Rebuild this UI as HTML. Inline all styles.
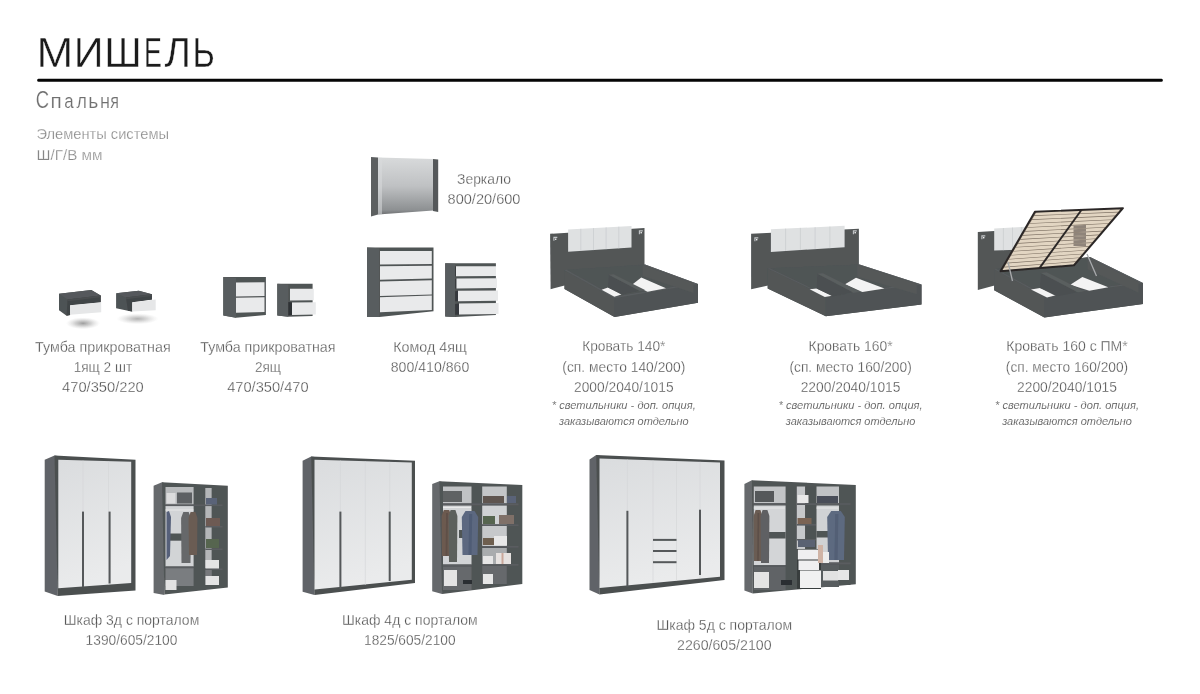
<!DOCTYPE html>
<html><head><meta charset="utf-8"><style>
html,body{margin:0;padding:0;background:#fff;}
body{width:1200px;height:694px;overflow:hidden;position:relative;}
svg{position:absolute;left:0;top:0;display:block;}
text{font-family:"Liberation Sans", sans-serif;}
</style></head><body>
<svg width="1200" height="694" viewBox="0 0 1200 694">
<defs>
<linearGradient id="mirror" x1="0" y1="0" x2="0" y2="1"><stop offset="0" stop-color="#d8dadb"/><stop offset="0.5" stop-color="#bfc1c3"/><stop offset="0.92" stop-color="#8d9092"/><stop offset="1" stop-color="#6c6f71"/></linearGradient>
<linearGradient id="door" x1="0" y1="0" x2="0.25" y2="1"><stop offset="0" stop-color="#dadcde"/><stop offset="1" stop-color="#eaebec"/></linearGradient>
<radialGradient id="shd"><stop offset="0" stop-color="#8c8c8c" stop-opacity="0.85"/><stop offset="0.45" stop-color="#a0a0a0" stop-opacity="0.5"/><stop offset="1" stop-color="#c8c8c8" stop-opacity="0"/></radialGradient>
<filter id="blur1" x="-150%" y="-300%" width="400%" height="700%"><feGaussianBlur stdDeviation="2.6"/></filter>
<filter id="gs" x="0" y="0" width="100%" height="100%"><feOffset dx="0" dy="0"/></filter>
<filter id="soft" x="-5%" y="-5%" width="110%" height="110%"><feGaussianBlur stdDeviation="0.35"/></filter>
</defs>
<g filter="url(#soft)">
<ellipse cx="83" cy="323.3" rx="17" ry="6" fill="url(#shd)" /><ellipse cx="137.5" cy="318.8" rx="21" ry="5.5" fill="url(#shd)" opacity="0.8"/><polygon points="59.0,293.8 91.3,290.0 100.7,295.6 100.7,302.2 70.1,305.2 70.1,315.0 66.6,315.8 59.0,310.2" fill="#4e5254" /><polygon points="59.0,293.8 91.3,290.0 100.7,295.6 67.6,299.5" fill="#55595b" /><polygon points="67.6,299.5 100.7,295.6 100.7,302.2 70.1,305.2 70.1,315.0 66.6,315.8" fill="#404446" /><polygon points="67.6,299.5 100.7,295.6 100.7,297.2 67.6,301.2" fill="#4a4e50" /><polygon points="70.1,305.2 101.2,302.2 101.2,312.2 70.1,314.8" fill="#e6e7e8" /><polygon points="116.1,293.3 138.8,290.8 151.9,294.3 151.9,299.6 132.2,302.2 132.2,311.5 127.9,310.7 116.1,308.2" fill="#4e5254" /><polygon points="116.1,293.3 138.8,290.8 151.9,294.3 126.0,297.5" fill="#55595b" /><polygon points="126.0,297.5 151.9,294.3 151.9,299.6 132.2,302.2 132.2,311.5 127.9,310.7" fill="#404446" /><polygon points="126.0,297.5 151.9,294.3 151.9,296.0 126.0,299.2" fill="#4a4e50" /><polygon points="132.2,302.2 155.7,299.6 155.7,310.2 132.2,311.5" fill="#e6e7e8" /><polygon points="223.3,277.0 265.9,277.0 265.9,315.0 236.0,317.8 223.3,315.5" fill="#505455" /><polygon points="223.3,277.0 236.0,278.0 236.0,317.8 223.3,315.5" fill="#595d5e" /><polygon points="236.0,282.4 264.5,282.3 264.5,296.1 236.0,296.6" fill="#e9eaeb" /><polygon points="236.0,297.8 264.5,297.3 264.5,311.9 236.0,312.8" fill="#e9eaeb" /><polygon points="277.3,283.8 312.6,283.8 312.6,316.0 288.3,316.8 277.3,315.5" fill="#505455" /><polygon points="277.3,283.8 288.3,284.5 288.3,316.8 277.3,315.5" fill="#595d5e" /><polygon points="290.0,288.8 313.8,288.8 313.8,300.2 290.0,300.4" fill="#e9eaeb" /><polygon points="292.0,302.5 315.8,302.3 315.8,314.6 292.0,315.0" fill="#e9eaeb" /><polygon points="288.3,302.0 292.0,302.5 292.0,315.0 288.3,315.5" fill="#2f3134" /><polygon points="371.0,157.0 378.0,157.5 378.0,214.6 371.0,216.6" fill="#5b5f61" /><polygon points="378.0,157.5 433.2,159.0 433.2,210.5 378.0,214.6" fill="url(#mirror)" /><polygon points="433.0,159.0 438.2,159.5 438.2,212.0 433.0,211.0" fill="#55595a" /><polygon points="378.0,157.6 382.0,157.7 382.0,214.3 378.0,214.6" fill="#d9dbdc" opacity="0.55"/><polygon points="367.0,247.6 433.5,247.6 433.5,311.2 379.3,317.0 367.0,317.0" fill="#505455" /><polygon points="367.0,247.6 379.3,248.2 379.3,317.0 367.0,317.0" fill="#595d5e" /><polygon points="380.0,251.0 431.8,250.9 431.8,263.9 380.0,264.5" fill="#e9eaeb" /><polygon points="380.0,266.3 431.8,265.7 431.8,278.6 380.0,279.7" fill="#e9eaeb" /><polygon points="380.0,281.4 431.8,280.3 431.8,294.4 380.0,296.0" fill="#e9eaeb" /><polygon points="380.0,297.2 431.8,295.5 431.8,310.1 380.0,312.3" fill="#e9eaeb" /><polygon points="445.2,263.3 495.9,263.3 495.9,315.0 455.1,317.0 445.2,316.5" fill="#505455" /><polygon points="445.2,263.3 455.1,263.8 455.1,317.0 445.2,316.5" fill="#595d5e" /><polygon points="455.1,266.8 456.0,266.3 456.0,276.2 455.1,276.2" fill="#36393c" /><polygon points="456.0,266.3 496.0,266.3 496.0,276.0 456.0,276.2" fill="#e9eaeb" /><polygon points="455.1,279.0 456.5,278.5 456.5,288.4 455.1,288.4" fill="#36393c" /><polygon points="456.5,278.5 497.0,278.3 497.0,288.0 456.5,288.4" fill="#e9eaeb" /><polygon points="455.1,291.3 458.0,290.8 458.0,301.3 455.1,301.3" fill="#36393c" /><polygon points="458.0,290.8 498.0,290.4 498.0,300.7 458.0,301.3" fill="#e9eaeb" /><polygon points="455.1,304.1 459.0,303.6 459.0,314.7 455.1,314.7" fill="#36393c" /><polygon points="459.0,303.5 498.5,303.0 498.5,313.9 459.0,314.6" fill="#e9eaeb" /><polygon points="550.1,233.8 644.5,228.0 644.5,265.0 550.6,289.2" fill="#525657" /><polygon points="568.1,229.5 631.5,225.9 631.5,247.5 568.1,251.8" fill="#dfe1e2" /><line x1="580.8" y1="228.8" x2="580.8" y2="250.9" stroke="#c9cccf" stroke-width="0.7" /><line x1="593.5" y1="228.1" x2="593.5" y2="250.1" stroke="#c9cccf" stroke-width="0.7" /><line x1="606.1" y1="227.3" x2="606.1" y2="249.2" stroke="#c9cccf" stroke-width="0.7" /><line x1="618.8" y1="226.6" x2="618.8" y2="248.4" stroke="#c9cccf" stroke-width="0.7" /><path d="M553.9,240.8 V237.4 H557.3" fill="none" stroke="#c4c6c8" stroke-width="1.1"/><rect x="555.0" y="238.5" width="1.4" height="1.4" fill="#f2f2f2" /><path d="M639.4,234.3 V230.9 H642.8" fill="none" stroke="#c4c6c8" stroke-width="1.1"/><rect x="640.5" y="232.0" width="1.4" height="1.4" fill="#f2f2f2" /><polygon points="564.5,270.2 645.0,264.5 698.0,284.0 698.0,302.8 614.5,317.0 564.5,289.0" fill="#505455" /><polygon points="564.5,270.2 614.5,298.2 614.5,317.0 564.5,289.0" fill="#525657" /><polygon points="614.5,298.2 698.0,284.0 698.0,302.8 614.5,317.0" fill="#4f5354" /><polygon points="564.5,270.2 614.5,298.2 698.0,284.0 645.0,264.5 642.6,264.9 693.5,283.2 614.8,296.6 566.9,269.8" fill="#585c5e" /><polygon points="566.9,269.8 614.8,296.6 693.5,283.2 642.6,264.9" fill="#505455" /><polygon points="601.6,289.7 608.0,287.5 621.4,294.6 614.4,296.7" fill="#f3f3f3" /><polygon points="632.0,284.7 641.3,277.6 666.0,288.2 647.6,291.8" fill="#f3f3f3" /><polygon points="642.6,264.9 693.5,283.2 693.5,293.0 642.6,276.0" fill="#545859" /><polygon points="608.8,274.7 639.8,291.1 622.3,294.6 608.0,287.5" fill="#4c5051" /><polygon points="608.8,274.7 613.6,274.3 645.5,290.3 639.8,291.1" fill="#5a5e5f" /><polygon points="751.1,233.8 858.9,228.7 858.9,265.5 751.1,289.2" fill="#525657" /><polygon points="770.9,229.3 844.6,225.8 844.6,247.2 770.9,252.0" fill="#dfe1e2" /><line x1="785.6" y1="228.6" x2="785.6" y2="251.0" stroke="#c9cccf" stroke-width="0.7" /><line x1="800.4" y1="227.9" x2="800.4" y2="250.1" stroke="#c9cccf" stroke-width="0.7" /><line x1="815.1" y1="227.2" x2="815.1" y2="249.1" stroke="#c9cccf" stroke-width="0.7" /><line x1="829.9" y1="226.5" x2="829.9" y2="248.2" stroke="#c9cccf" stroke-width="0.7" /><path d="M754.9,241.3 V237.9 H758.3" fill="none" stroke="#c4c6c8" stroke-width="1.1"/><rect x="756.0" y="239.0" width="1.4" height="1.4" fill="#f2f2f2" /><path d="M853.4,234.3 V230.9 H856.8" fill="none" stroke="#c4c6c8" stroke-width="1.1"/><rect x="854.5" y="232.0" width="1.4" height="1.4" fill="#f2f2f2" /><polygon points="767.7,268.6 859.5,264.5 921.5,284.5 921.5,304.5 825.8,316.2 767.7,288.6" fill="#505455" /><polygon points="767.7,268.6 825.8,296.2 825.8,316.2 767.7,288.6" fill="#525657" /><polygon points="825.8,296.2 921.5,284.5 921.5,304.5 825.8,316.2" fill="#4f5354" /><polygon points="767.7,268.6 825.8,296.2 921.5,284.5 859.5,264.5 857.1,264.8 916.9,283.8 826.0,294.9 770.1,268.3" fill="#585c5e" /><polygon points="770.1,268.3 826.0,294.9 916.9,283.8 857.1,264.8" fill="#505455" /><polygon points="809.7,289.3 816.6,288.4 832.2,295.7 824.8,297.1" fill="#f3f3f3" /><polygon points="845.0,284.2 856.0,277.8 884.4,288.4 862.4,292.0" fill="#f3f3f3" /><polygon points="857.1,264.8 916.9,283.8 916.9,294.3 857.1,276.7" fill="#545859" /><polygon points="817.5,273.7 853.2,292.5 833.0,296.6 816.6,288.4" fill="#4c5051" /><polygon points="817.5,273.7 823.0,273.2 859.7,291.6 853.2,292.5" fill="#5a5e5f" /><polygon points="977.8,232.0 1060.0,227.0 1060.0,268.0 977.8,290.0" fill="#525657" /><polygon points="994.2,228.5 1040.0,226.0 1040.0,249.0 994.2,250.5" fill="#dfe1e2" /><line x1="1003.4" y1="228.0" x2="1003.4" y2="250.2" stroke="#c9cccf" stroke-width="0.7" /><line x1="1012.5" y1="227.5" x2="1012.5" y2="249.9" stroke="#c9cccf" stroke-width="0.7" /><line x1="1021.7" y1="227.0" x2="1021.7" y2="249.6" stroke="#c9cccf" stroke-width="0.7" /><line x1="1030.8" y1="226.5" x2="1030.8" y2="249.3" stroke="#c9cccf" stroke-width="0.7" /><path d="M981.9,239.3 V235.9 H985.3" fill="none" stroke="#c4c6c8" stroke-width="1.1"/><rect x="983.0" y="237.0" width="1.4" height="1.4" fill="#f2f2f2" /><polygon points="994.2,269.2 1090.0,257.0 1143.0,283.0 1143.0,304.0 1044.4,317.5 994.2,290.2" fill="#505455" /><polygon points="994.2,269.2 1044.4,296.5 1044.4,317.5 994.2,290.2" fill="#525657" /><polygon points="1044.4,296.5 1143.0,283.0 1143.0,304.0 1044.4,317.5" fill="#4f5354" /><polygon points="994.2,269.2 1044.4,296.5 1143.0,283.0 1090.0,257.0 1087.6,257.3 1138.5,282.2 1044.7,295.0 996.6,268.9" fill="#585c5e" /><polygon points="996.6,268.9 1044.7,295.0 1138.5,282.2 1087.6,257.3" fill="#505455" /><polygon points="1031.0,289.5 1040.0,288.0 1057.0,295.0 1047.0,297.5" fill="#f3f3f3" /><polygon points="1070.3,284.7 1082.4,277.0 1108.3,287.3 1089.3,290.8" fill="#f3f3f3" /><polygon points="1087.6,257.3 1138.5,282.2 1138.5,292.7 1087.6,269.2" fill="#545859" /><polygon points="1040.9,272.9 1077.7,292.2 1056.9,296.4 1040.0,288.0" fill="#4c5051" /><polygon points="1040.9,272.9 1046.6,272.3 1084.4,291.3 1077.7,292.2" fill="#5a5e5f" /><polygon points="1034.9,211.7 1123.0,208.2 1074.0,265.3 1000.5,271.2" fill="#7a6d60" /><polygon points="1036.5,211.9 1121.0,208.6 1118.3,211.8 1034.5,215.3" fill="#e2d5c2" /><polygon points="1034.2,215.9 1117.7,212.4 1115.0,215.6 1032.2,219.2" fill="#e2d5c2" /><polygon points="1031.9,219.9 1114.5,216.2 1111.8,219.4 1029.9,223.2" fill="#e2d5c2" /><polygon points="1029.5,223.8 1111.2,220.0 1108.5,223.2 1027.6,227.2" fill="#e2d5c2" /><polygon points="1027.2,227.8 1108.0,223.8 1105.3,227.0 1025.3,231.1" fill="#e2d5c2" /><polygon points="1024.9,231.8 1104.7,227.6 1102.0,230.8 1023.0,235.1" fill="#e2d5c2" /><polygon points="1022.6,235.7 1101.5,231.4 1098.8,234.6 1020.7,239.1" fill="#e2d5c2" /><polygon points="1020.3,239.7 1098.2,235.2 1095.5,238.4 1018.3,243.0" fill="#e2d5c2" /><polygon points="1018.0,243.7 1095.0,239.1 1092.3,242.3 1016.0,247.0" fill="#e2d5c2" /><polygon points="1015.7,247.6 1091.8,242.9 1089.0,246.1 1013.7,250.9" fill="#e2d5c2" /><polygon points="1013.3,251.6 1088.5,246.7 1085.8,249.9 1011.4,254.9" fill="#e2d5c2" /><polygon points="1011.0,255.5 1085.3,250.5 1082.5,253.7 1009.1,258.9" fill="#e2d5c2" /><polygon points="1008.7,259.5 1082.0,254.3 1079.3,257.5 1006.8,262.8" fill="#e2d5c2" /><polygon points="1006.4,263.5 1078.8,258.1 1076.0,261.3 1004.5,266.8" fill="#e2d5c2" /><polygon points="1004.1,267.4 1075.5,261.9 1072.8,265.1 1002.2,270.8" fill="#e2d5c2" /><clipPath id="slatclip"><polygon points="1034.7,212.0 1122.7,208.5 1120.0,211.7 1032.8,215.3" fill="#000" /><polygon points="1032.4,216.0 1119.5,212.3 1116.7,215.5 1030.5,219.3" fill="#000" /><polygon points="1030.1,220.0 1116.2,216.1 1113.5,219.3 1028.2,223.3" fill="#000" /><polygon points="1027.8,223.9 1112.9,219.9 1110.2,223.1 1025.9,227.2" fill="#000" /><polygon points="1025.5,227.9 1109.7,223.7 1106.9,226.9 1023.6,231.2" fill="#000" /><polygon points="1023.2,231.9 1106.4,227.5 1103.7,230.7 1021.3,235.2" fill="#000" /><polygon points="1021.0,235.8 1103.1,231.3 1100.4,234.5 1019.0,239.1" fill="#000" /><polygon points="1018.7,239.8 1099.9,235.2 1097.1,238.3 1016.7,243.1" fill="#000" /><polygon points="1016.4,243.8 1096.6,239.0 1093.9,242.2 1014.4,247.1" fill="#000" /><polygon points="1014.1,247.7 1093.3,242.8 1090.6,246.0 1012.2,251.0" fill="#000" /><polygon points="1011.8,251.7 1090.1,246.6 1087.3,249.8 1009.9,255.0" fill="#000" /><polygon points="1009.5,255.7 1086.8,250.4 1084.1,253.6 1007.6,259.0" fill="#000" /><polygon points="1007.2,259.6 1083.5,254.2 1080.8,257.4 1005.3,262.9" fill="#000" /><polygon points="1004.9,263.6 1080.3,258.0 1077.5,261.2 1003.0,266.9" fill="#000" /><polygon points="1002.6,267.6 1077.0,261.8 1074.3,265.0 1000.7,270.9" fill="#000" /></clipPath><rect x="1073.5" y="225" width="12.5" height="21" fill="#8f847a" clip-path="url(#slatclip)"/><polygon points="1034.9,211.7 1123.0,208.2 1074.0,265.3 1000.5,271.2" fill="none" stroke="#2b2726" stroke-width="1.9" stroke-linejoin="round"/><line x1="1081.6" y1="209.8" x2="1039.5" y2="268.1" stroke="#2b2726" stroke-width="1.9" /><line x1="1008" y1="262" x2="1012.5" y2="281" stroke="#a9abad" stroke-width="1.3" /><line x1="1087" y1="254" x2="1096.5" y2="276" stroke="#a9abad" stroke-width="1.3" /><polygon points="44.7,459.7 54.5,455.4 57.7,456.0 57.7,596.0 44.7,591.6" fill="#616467" /><polygon points="54.5,455.4 135.5,459.7 135.5,590.5 57.7,596.0" fill="#4b4f50" /><polygon points="57.7,456.0 57.8,456.0 57.8,596.0 57.7,596.0" fill="#4b4f50" /><polygon points="58.3,459.7 131.2,461.8 131.2,583.0 58.3,588.3" fill="url(#door)" /><line x1="83" y1="460.5" x2="83" y2="587" stroke="#d3d5d7" stroke-width="0.6" /><line x1="108.5" y1="461.2" x2="108.5" y2="584.5" stroke="#d3d5d7" stroke-width="0.6" /><rect x="82" y="511.6" width="2" height="75.39999999999998" fill="#55595a" /><rect x="108.6" y="511.6" width="2" height="71.89999999999998" fill="#55595a" /><polygon points="302.6,460.8 311.2,456.5 314.5,457.0 314.5,595.0 302.6,591.7" fill="#616467" /><polygon points="311.2,456.5 415.0,460.8 415.0,583.0 314.5,595.0" fill="#4b4f50" /><polygon points="314.5,457.0 314.6,457.0 314.6,595.0 314.5,595.0" fill="#4b4f50" /><polygon points="314.5,459.7 411.8,462.5 411.8,579.8 314.5,589.5" fill="url(#door)" /><line x1="340.4" y1="460.5" x2="340.4" y2="587" stroke="#d3d5d7" stroke-width="0.6" /><line x1="365.3" y1="461.2" x2="365.3" y2="585" stroke="#d3d5d7" stroke-width="0.6" /><line x1="389.7" y1="461.8" x2="389.7" y2="582" stroke="#d3d5d7" stroke-width="0.6" /><rect x="339.4" y="511.6" width="2" height="77.39999999999998" fill="#55595a" /><rect x="388.7" y="511.6" width="2" height="69.39999999999998" fill="#55595a" /><polygon points="589.5,459.5 596.2,455.0 599.5,455.5 599.5,594.6 589.5,590.0" fill="#616467" /><polygon points="596.2,455.0 724.5,460.6 724.5,580.0 599.5,594.6" fill="#4b4f50" /><polygon points="599.5,455.5 599.6,455.5 599.6,594.6 599.5,594.6" fill="#4b4f50" /><polygon points="599.5,458.4 720.0,462.5 720.0,576.7 599.5,587.9" fill="url(#door)" /><line x1="627.4" y1="459.5" x2="627.4" y2="585.5" stroke="#d3d5d7" stroke-width="0.6" /><line x1="653" y1="460.3" x2="653" y2="583" stroke="#d3d5d7" stroke-width="0.6" /><line x1="676.5" y1="461" x2="676.5" y2="581" stroke="#d3d5d7" stroke-width="0.6" /><line x1="700" y1="461.8" x2="700" y2="578.5" stroke="#d3d5d7" stroke-width="0.6" /><rect x="626.4" y="510.8" width="2" height="75.90000000000003" fill="#55595a" /><rect x="699" y="509.7" width="2" height="65.30000000000001" fill="#55595a" /><rect x="653" y="538.9" width="23.5" height="2" fill="#55595a" /><rect x="653" y="550" width="23.5" height="2" fill="#55595a" /><rect x="653" y="561.2" width="23.5" height="2" fill="#55595a" /><polygon points="153.6,485.8 162.0,482.2 164.4,483.0 164.4,595.0 153.6,592.9" fill="#66696c" /><polygon points="162.0,482.2 227.8,485.8 227.8,587.5 164.4,594.5" fill="#505455" /><rect x="165.5" y="487" width="28.099999999999994" height="17.5" fill="#b9bbbd" /><rect x="165.5" y="506" width="28.099999999999994" height="60.5" fill="#d2d4d6" /><rect x="170" y="533.5" width="23.599999999999994" height="7.2000000000000455" fill="#505455" /><rect x="165.5" y="568" width="28.099999999999994" height="18" fill="#7a7d80" /><rect x="205.3" y="488" width="6.5" height="80" fill="#b4b6b8" /><rect x="211.8" y="488" width="10.699999999999989" height="97" fill="#505455" /><rect x="205.3" y="570" width="6.5" height="15" fill="#77797c" /><rect x="165.5" y="504.5" width="57.0" height="1.6" fill="#5a5d60" /><rect x="165.5" y="566.5" width="28.099999999999994" height="1.8" fill="#5a5d60" /><rect x="205.3" y="526" width="17.19999999999999" height="1.5" fill="#5a5d60" /><rect x="205.3" y="548.5" width="17.19999999999999" height="1.5" fill="#5a5d60" /><rect x="205.3" y="568.4" width="17.19999999999999" height="1.6" fill="#5a5d60" /><rect x="166.5" y="493" width="9" height="10.5" fill="#dcdcdd" /><rect x="177" y="492.5" width="15" height="11" fill="#5d6063" /><rect x="165.5" y="509.5" width="28" height="1" fill="#e8e8e8" /><polygon points="166.5,512.0 169.0,511.0 171.0,517.0 170.0,556.0 166.5,560.0" fill="#56607a" /><polygon points="183.3,512.0 188.7,512.0 190.9,518.0 190.5,563.0 181.5,563.0 181.1,518.0" fill="#66686a" /><polygon points="190.6,512.0 195.4,512.0 197.4,518.0 197.0,555.0 189.0,555.0 188.6,518.0" fill="#6b5b52" /><rect x="206" y="498" width="11" height="6.5" fill="#5a6478" /><rect x="206" y="518" width="14" height="8" fill="#6d5a52" /><rect x="206" y="539" width="13" height="9" fill="#56654f" /><rect x="205.5" y="560" width="13.5" height="8.5" fill="#e4e4e4" /><rect x="205.5" y="576" width="13.5" height="9" fill="#e4e4e4" /><rect x="165.5" y="580" width="11" height="10" fill="#e2e2e2" /><polygon points="432.2,484.0 439.4,481.3 442.1,482.0 442.1,593.9 432.2,591.2" fill="#66696c" /><polygon points="439.4,481.3 522.3,484.9 522.3,584.0 442.1,593.9" fill="#505455" /><rect x="443" y="486.5" width="28.5" height="16.899999999999977" fill="#c0c2c4" /><rect x="443" y="505.5" width="28.5" height="59.0" fill="#d2d4d6" /><rect x="459" y="530" width="12.5" height="8" fill="#505455" /><rect x="443" y="566.5" width="28.5" height="23.5" fill="#66696c" /><rect x="482.2" y="486.5" width="24.600000000000023" height="16.899999999999977" fill="#c4c6c8" /><rect x="482.2" y="505.5" width="24.600000000000023" height="18.899999999999977" fill="#d0d2d4" /><rect x="482.2" y="526" width="24.600000000000023" height="20" fill="#c6c8ca" /><rect x="482.2" y="548" width="24.600000000000023" height="16" fill="#a9acae" /><rect x="482.2" y="566" width="24.600000000000023" height="18" fill="#66696c" /><rect x="507.3" y="486.5" width="11.199999999999989" height="96.5" fill="#505455" /><rect x="443" y="503.4" width="75.5" height="1.8" fill="#5a5d60" /><rect x="443" y="564.5" width="28.5" height="1.8" fill="#5a5d60" /><rect x="482.2" y="524.4" width="36.30000000000001" height="1.6" fill="#5a5d60" /><rect x="482.2" y="546" width="36.30000000000001" height="1.6" fill="#5a5d60" /><rect x="482.2" y="564" width="36.30000000000001" height="1.7" fill="#5a5d60" /><rect x="443" y="507" width="28" height="1" fill="#eaeaea" /><rect x="443" y="491" width="19" height="11" fill="#5f6264" /><polygon points="443.8,510.0 449.2,510.0 451.4,516.0 451.0,556.0 442.0,556.0 441.6,516.0" fill="#6c5a50" /><polygon points="446.1,513.0 447.9,513.0 447.4,556.0 445.6,556.0" fill="#5e4f47" /><polygon points="450.6,510.0 455.4,510.0 457.4,516.0 457.0,562.0 449.0,562.0 448.6,516.0" fill="#5c605c" /><polygon points="465.5,511.0 474.5,511.0 478.2,517.0 477.5,555.0 462.5,555.0 461.8,517.0" fill="#5b6880" /><polygon points="469.2,514.0 472.2,514.0 471.5,555.0 468.5,555.0" fill="#4f5c74" /><rect x="483" y="496" width="21" height="7" fill="#5e5450" /><rect x="507" y="496" width="9" height="7" fill="#5a6478" /><rect x="483" y="516" width="12" height="8" fill="#56654f" /><rect x="499" y="515" width="15" height="9" fill="#7f6f68" /><rect x="483" y="538" width="12" height="7" fill="#6e5e50" /><rect x="494" y="536" width="13" height="9.5" fill="#e8e8e8" /><rect x="483" y="556" width="10" height="8" fill="#e6e6e6" /><rect x="496" y="553" width="15" height="11" fill="#e6e2e0" /><rect x="501.5" y="553" width="2" height="11" fill="#c9a79a" /><rect x="483" y="574" width="10" height="10" fill="#e6e6e6" /><rect x="444" y="570" width="13" height="16" fill="#e4e4e4" /><rect x="463" y="580" width="9" height="4" fill="#2c2e30" /><polygon points="744.4,484.0 751.9,480.3 752.8,481.0 752.8,593.6 744.4,590.5" fill="#66696c" /><polygon points="751.9,480.3 855.8,485.0 855.8,584.3 752.8,593.6" fill="#505455" /><rect x="753.8" y="486.5" width="31.800000000000068" height="16.69999999999999" fill="#c2c4c6" /><rect x="753.8" y="505.5" width="31.800000000000068" height="59.5" fill="#d3d5d7" /><rect x="768" y="532" width="17.600000000000023" height="6.5" fill="#505455" /><rect x="753.8" y="567" width="31.800000000000068" height="23" fill="#606466" /><rect x="796.8" y="486.5" width="8.400000000000091" height="62.5" fill="#c6c8ca" /><rect x="805.2" y="486.5" width="11.299999999999955" height="62.5" fill="#4e5253" /><rect x="816.5" y="486.5" width="22.5" height="16.69999999999999" fill="#c0c2c4" /><rect x="816.5" y="505.5" width="22.5" height="57.0" fill="#d0d2d4" /><rect x="816.5" y="531" width="22.5" height="6.5" fill="#505455" /><rect x="816.5" y="564.5" width="22.5" height="22.5" fill="#595d5f" /><rect x="839.5" y="486.5" width="11.0" height="98.5" fill="#505455" /><rect x="753.8" y="503.2" width="31.800000000000068" height="1.8" fill="#5a5d60" /><rect x="753.8" y="565" width="31.800000000000068" height="1.8" fill="#5a5d60" /><rect x="796.8" y="503.2" width="42.200000000000045" height="1.8" fill="#5a5d60" /><rect x="796.8" y="524" width="19.200000000000045" height="1.6" fill="#5a5d60" /><rect x="796.8" y="539" width="19.200000000000045" height="1.5" fill="#5a5d60" /><rect x="816.5" y="562.5" width="34.0" height="1.8" fill="#5a5d60" /><rect x="839.5" y="503.2" width="11.0" height="1.6" fill="#5a5d60" /><rect x="753.8" y="507.5" width="31" height="1" fill="#e8e8e8" /><rect x="755" y="491" width="19" height="11" fill="#55585a" /><polygon points="755.6,510.0 760.4,510.0 762.4,516.0 762.0,561.0 754.0,561.0 753.6,516.0" fill="#6a5b52" /><polygon points="757.6,513.0 759.2,513.0 758.8,561.0 757.2,561.0" fill="#5c4f48" /><polygon points="762.6,510.0 767.4,510.0 769.4,516.0 769.0,563.0 761.0,563.0 760.6,516.0" fill="#5f6163" /><rect x="797.5" y="495" width="11" height="8" fill="#e8e8e8" /><rect x="797.5" y="518" width="14" height="6" fill="#7a6452" /><rect x="798" y="540" width="17" height="7" fill="#5a6272" /><rect x="817" y="496" width="21" height="7" fill="#4a4e58" /><rect x="816.5" y="507.5" width="22" height="1" fill="#e8e8e8" /><polygon points="831.2,511.0 840.8,511.0 844.8,517.0 844.0,560.0 828.0,560.0 827.2,517.0" fill="#5d6a80" /><polygon points="835.2,514.0 838.4,514.0 837.6,560.0 834.4,560.0" fill="#525f75" /><rect x="823" y="571" width="15" height="9.5" fill="#e2e2e2" /><rect x="838" y="570" width="11" height="10" fill="#e6e6e6" /><rect x="797" y="549" width="24" height="40" fill="#383c3d" /><polygon points="797.8,549.6 818.4,549.6 818.4,559.5 797.8,559.5" fill="#efeff0" /><polygon points="798.5,560.5 819.0,560.5 819.0,570.0 798.5,570.0" fill="#efeff0" /><polygon points="800.0,570.5 821.0,570.5 821.0,588.0 800.0,588.0" fill="#f1f1f1" /><rect x="818" y="545" width="5" height="18" fill="#cfb3a5" /><rect x="823" y="552" width="6" height="11" fill="#ececec" /><rect x="754" y="572" width="15" height="16" fill="#e4e4e4" /><rect x="781" y="580" width="11" height="5" fill="#2c2e30" />
</g>
<g filter="url(#gs)"><text transform="translate(36.41,66.8) scale(1.057,1)" x="0" y="0" font-size="41.8" fill="#1b1b1b" stroke="#fff" stroke-width="0.4">М</text><text transform="translate(73.63,66.8) scale(0.991,1)" x="0" y="0" font-size="41.8" fill="#1b1b1b" stroke="#fff" stroke-width="0.4">И</text><text transform="translate(104.18,66.8) scale(0.978,1)" x="0" y="0" font-size="41.8" fill="#1b1b1b" stroke="#fff" stroke-width="0.4">Ш</text><text transform="translate(144.07,66.8) scale(0.641,1)" x="0" y="0" font-size="41.8" fill="#1b1b1b" stroke="#fff" stroke-width="0.4">Е</text><text transform="translate(164.61,66.8) scale(0.97,1)" x="0" y="0" font-size="41.8" fill="#1b1b1b" stroke="#fff" stroke-width="0.4">Л</text><text transform="translate(192.62,66.8) scale(0.817,1)" x="0" y="0" font-size="41.8" fill="#1b1b1b" stroke="#fff" stroke-width="0.4">Ь</text><rect x="37.2" y="78.8" width="1125.6" height="3" rx="1.4" fill="#050505"/><text transform="translate(35.75,107.5) scale(0.86,1.08)" x="0" y="0" font-size="21.5" fill="#707070" stroke="#fff" stroke-width="0.2">С</text><text transform="translate(50.55,107.5) scale(0.966,0.92)" x="0" y="0" font-size="21.5" fill="#707070" stroke="#fff" stroke-width="0.2">п</text><text transform="translate(64.29,107.5) scale(0.788,0.92)" x="0" y="0" font-size="21.5" fill="#707070" stroke="#fff" stroke-width="0.2">а</text><text transform="translate(76.62,107.5) scale(0.827,0.92)" x="0" y="0" font-size="21.5" fill="#707070" stroke="#fff" stroke-width="0.2">л</text><text transform="translate(88.25,107.5) scale(0.898,0.92)" x="0" y="0" font-size="21.5" fill="#707070" stroke="#fff" stroke-width="0.2">ь</text><text transform="translate(99.99,107.5) scale(0.843,0.92)" x="0" y="0" font-size="21.5" fill="#707070" stroke="#fff" stroke-width="0.2">н</text><text transform="translate(110.25,107.5) scale(0.75,0.92)" x="0" y="0" font-size="21.5" fill="#707070" stroke="#fff" stroke-width="0.2">я</text><text x="36.5" y="138.6" font-size="14.8" fill="#878787" text-anchor="start" stroke="#fff" stroke-width="0.25" textLength="132.5" lengthAdjust="spacingAndGlyphs">Элементы системы</text><text x="36.5" y="159.8" font-size="14.8" fill="#878787" text-anchor="start" stroke="#fff" stroke-width="0.25" textLength="66" lengthAdjust="spacingAndGlyphs">Ш/Г/В мм</text><text x="102.9" y="351.75" font-size="15.2" fill="#4f4f4f" text-anchor="middle" stroke="#fff" stroke-width="0.3" textLength="135.7" lengthAdjust="spacingAndGlyphs">Тумба прикроватная</text><text x="102.9" y="371.85" font-size="15.2" fill="#4f4f4f" text-anchor="middle" stroke="#fff" stroke-width="0.3" textLength="58.5" lengthAdjust="spacingAndGlyphs">1ящ 2 шт</text><text x="102.9" y="391.95" font-size="15.2" fill="#4f4f4f" text-anchor="middle" stroke="#fff" stroke-width="0.3" textLength="81.7" lengthAdjust="spacingAndGlyphs">470/350/220</text><text x="267.9" y="351.75" font-size="15.2" fill="#4f4f4f" text-anchor="middle" stroke="#fff" stroke-width="0.3" textLength="135.3" lengthAdjust="spacingAndGlyphs">Тумба прикроватная</text><text x="267.9" y="371.85" font-size="15.2" fill="#4f4f4f" text-anchor="middle" stroke="#fff" stroke-width="0.3" textLength="26" lengthAdjust="spacingAndGlyphs">2ящ</text><text x="267.9" y="391.95" font-size="15.2" fill="#4f4f4f" text-anchor="middle" stroke="#fff" stroke-width="0.3" textLength="81.5" lengthAdjust="spacingAndGlyphs">470/350/470</text><text x="484" y="184.0" font-size="15.2" fill="#4f4f4f" text-anchor="middle" stroke="#fff" stroke-width="0.3" textLength="54" lengthAdjust="spacingAndGlyphs">Зеркало</text><text x="484" y="203.8" font-size="15.2" fill="#4f4f4f" text-anchor="middle" stroke="#fff" stroke-width="0.3" textLength="72.9" lengthAdjust="spacingAndGlyphs">800/20/600</text><text x="430" y="351.5" font-size="15.2" fill="#4f4f4f" text-anchor="middle" stroke="#fff" stroke-width="0.3" textLength="73.5" lengthAdjust="spacingAndGlyphs">Комод 4ящ</text><text x="430" y="371.5" font-size="15.2" fill="#4f4f4f" text-anchor="middle" stroke="#fff" stroke-width="0.3" textLength="78.5" lengthAdjust="spacingAndGlyphs">800/410/860</text><text x="623.8" y="351" font-size="15.2" fill="#4f4f4f" text-anchor="middle" stroke="#fff" stroke-width="0.3" textLength="83.2" lengthAdjust="spacingAndGlyphs">Кровать 140*</text><text x="623.8" y="372" font-size="15.2" fill="#4f4f4f" text-anchor="middle" stroke="#fff" stroke-width="0.3" textLength="123" lengthAdjust="spacingAndGlyphs">(сп. место 140/200)</text><text x="623.8" y="391.5" font-size="15.2" fill="#4f4f4f" text-anchor="middle" stroke="#fff" stroke-width="0.3" textLength="99.5" lengthAdjust="spacingAndGlyphs">2000/2040/1015</text><text x="623.8" y="408.75" font-size="11.5" fill="#555" text-anchor="middle" stroke="#fff" stroke-width="0.12" textLength="144" lengthAdjust="spacingAndGlyphs" font-style="italic">* светильники - доп. опция,</text><text x="623.8" y="424.5" font-size="11.5" fill="#555" text-anchor="middle" stroke="#fff" stroke-width="0.12" textLength="129.7" lengthAdjust="spacingAndGlyphs" font-style="italic">заказываются отдельно</text><text x="850.6" y="351" font-size="15.2" fill="#4f4f4f" text-anchor="middle" stroke="#fff" stroke-width="0.3" textLength="84" lengthAdjust="spacingAndGlyphs">Кровать 160*</text><text x="850.6" y="372" font-size="15.2" fill="#4f4f4f" text-anchor="middle" stroke="#fff" stroke-width="0.3" textLength="122.3" lengthAdjust="spacingAndGlyphs">(сп. место 160/200)</text><text x="850.6" y="391.5" font-size="15.2" fill="#4f4f4f" text-anchor="middle" stroke="#fff" stroke-width="0.3" textLength="99.8" lengthAdjust="spacingAndGlyphs">2200/2040/1015</text><text x="850.6" y="408.75" font-size="11.5" fill="#555" text-anchor="middle" stroke="#fff" stroke-width="0.12" textLength="144" lengthAdjust="spacingAndGlyphs" font-style="italic">* светильники - доп. опция,</text><text x="850.6" y="424.5" font-size="11.5" fill="#555" text-anchor="middle" stroke="#fff" stroke-width="0.12" textLength="129.7" lengthAdjust="spacingAndGlyphs" font-style="italic">заказываются отдельно</text><text x="1067" y="351" font-size="15.2" fill="#4f4f4f" text-anchor="middle" stroke="#fff" stroke-width="0.3" textLength="121.5" lengthAdjust="spacingAndGlyphs">Кровать 160 с ПМ*</text><text x="1067" y="372" font-size="15.2" fill="#4f4f4f" text-anchor="middle" stroke="#fff" stroke-width="0.3" textLength="122.3" lengthAdjust="spacingAndGlyphs">(сп. место 160/200)</text><text x="1067" y="391.5" font-size="15.2" fill="#4f4f4f" text-anchor="middle" stroke="#fff" stroke-width="0.3" textLength="100" lengthAdjust="spacingAndGlyphs">2200/2040/1015</text><text x="1067" y="408.75" font-size="11.5" fill="#555" text-anchor="middle" stroke="#fff" stroke-width="0.12" textLength="144" lengthAdjust="spacingAndGlyphs" font-style="italic">* светильники - доп. опция,</text><text x="1067" y="424.5" font-size="11.5" fill="#555" text-anchor="middle" stroke="#fff" stroke-width="0.12" textLength="129.7" lengthAdjust="spacingAndGlyphs" font-style="italic">заказываются отдельно</text><text x="131.5" y="624.75" font-size="15.2" fill="#4f4f4f" text-anchor="middle" stroke="#fff" stroke-width="0.3" textLength="135.5" lengthAdjust="spacingAndGlyphs">Шкаф 3д с порталом</text><text x="131.5" y="645.0" font-size="15.2" fill="#4f4f4f" text-anchor="middle" stroke="#fff" stroke-width="0.3" textLength="91.8" lengthAdjust="spacingAndGlyphs">1390/605/2100</text><text x="409.8" y="624.75" font-size="15.2" fill="#4f4f4f" text-anchor="middle" stroke="#fff" stroke-width="0.3" textLength="135.75" lengthAdjust="spacingAndGlyphs">Шкаф 4д с порталом</text><text x="409.8" y="645.0" font-size="15.2" fill="#4f4f4f" text-anchor="middle" stroke="#fff" stroke-width="0.3" textLength="91.5" lengthAdjust="spacingAndGlyphs">1825/605/2100</text><text x="724.3" y="629.75" font-size="15.2" fill="#4f4f4f" text-anchor="middle" stroke="#fff" stroke-width="0.3" textLength="135.75" lengthAdjust="spacingAndGlyphs">Шкаф 5д с порталом</text><text x="724.3" y="650.0" font-size="15.2" fill="#4f4f4f" text-anchor="middle" stroke="#fff" stroke-width="0.3" textLength="94.5" lengthAdjust="spacingAndGlyphs">2260/605/2100</text></g>
</svg>
</body></html>
